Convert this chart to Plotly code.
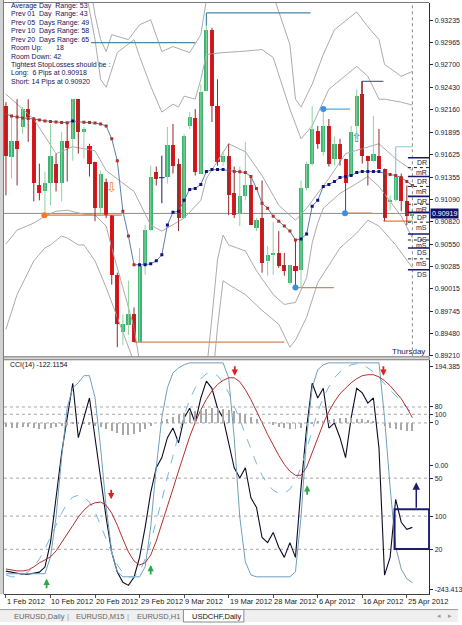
import plotly.graph_objects as go
import pandas as pd

W, H = 462, 625

# ---------------- categories ----------------
all_days = pd.date_range("2012-02-01", "2012-04-26", freq="D")
dates = [d for d in all_days if d.weekday() != 5]          # broker feed has Sunday bars
bar_index = list(range(len(dates)))
date_keys = [d.strftime("%Y-%m-%d") for d in dates]

tick_dates = ["2012-02-01", "2012-02-10", "2012-02-20", "2012-02-29", "2012-03-09",
              "2012-03-19", "2012-03-28", "2012-04-06", "2012-04-16", "2012-04-25"]
tick_text = ["1 Feb 2012", "10 Feb 2012", "20 Feb 2012", "29 Feb 2012", "9 Mar 2012",
             "19 Mar 2012", "28 Mar 2012", "6 Apr 2012", "16 Apr 2012", "25 Apr 2012"]
tick_index = [date_keys.index(t) for t in tick_dates]

price_ticks = [0.93235, 0.92965, 0.92700, 0.92430, 0.92160, 0.91895, 0.91625, 0.91355,
               0.91090, 0.90820, 0.90550, 0.90285, 0.90015, 0.89745, 0.89480, 0.89210]

# ---------------- OHLC (USDCHF daily) ----------------
opens = [0.92207, 0.91600, 0.91790, 0.91957, 0.92171, 0.92052, 0.91255, 0.91183, 0.91279, 0.91517,
         0.91279, 0.91790, 0.91814, 0.92290, 0.91897, 0.91731, 0.91540, 0.90981, 0.91302, 0.90898,
         0.90184, 0.89494, 0.89577, 0.89708, 0.89375, 0.90303, 0.90719, 0.91421, 0.91350, 0.91362,
         0.91743, 0.91517, 0.90862, 0.91969, 0.92064, 0.91398, 0.92385, 0.93123, 0.92207, 0.91540,
         0.91612, 0.91160, 0.90922, 0.91124, 0.91255, 0.90743, 0.90862, 0.90350, 0.90422, 0.90446,
         0.90303, 0.90089, 0.90291, 0.90243, 0.91219, 0.91517, 0.91909, 0.91659, 0.91969, 0.91576,
         0.91755, 0.91576, 0.91374, 0.91969, 0.92350, 0.91612, 0.91552, 0.91612, 0.91457, 0.91064,
         0.91076, 0.91362, 0.91064, 0.90898]
highs = [0.92254, 0.92076, 0.92290, 0.92195, 0.92290, 0.92076, 0.91517, 0.91421, 0.91993, 0.91636,
         0.91897, 0.92016, 0.92290, 0.92290, 0.91957, 0.91755, 0.91540, 0.91433, 0.91338, 0.90898,
         0.90208, 0.89708, 0.90112, 0.89791, 0.90505, 0.90779, 0.91493, 0.91481, 0.91612, 0.91957,
         0.91993, 0.91576, 0.91874, 0.92135, 0.92171, 0.92469, 0.93171, 0.93147, 0.92528, 0.91659,
         0.91755, 0.91481, 0.91481, 0.91778, 0.91374, 0.90862, 0.91314, 0.90529, 0.90814, 0.90707,
         0.90446, 0.90303, 0.90600, 0.91314, 0.91540, 0.92207, 0.91969, 0.92171, 0.92052, 0.91838,
         0.91814, 0.91576, 0.91969, 0.92409, 0.92504, 0.91612, 0.92088, 0.91933, 0.91457, 0.91136,
         0.91362, 0.91398, 0.91255, 0.90981]
lows = [0.91136, 0.91338, 0.91255, 0.91874, 0.91778, 0.91064, 0.91076, 0.90898, 0.91017, 0.91183,
        0.91064, 0.91302, 0.91552, 0.91636, 0.91576, 0.91362, 0.90826, 0.90898, 0.90862, 0.90065,
        0.89315, 0.89339, 0.89458, 0.89375, 0.89375, 0.90184, 0.90707, 0.91255, 0.91041, 0.91279,
        0.91398, 0.90707, 0.90862, 0.91933, 0.91374, 0.91398, 0.92385, 0.92016, 0.91493, 0.91493,
        0.90898, 0.90862, 0.90767, 0.91076, 0.90779, 0.90707, 0.90208, 0.90172, 0.90184, 0.90267,
        0.90172, 0.90065, 0.90029, 0.90029, 0.91195, 0.91493, 0.91695, 0.91612, 0.91481, 0.91493,
        0.91493, 0.90922, 0.91362, 0.91814, 0.91517, 0.91255, 0.91540, 0.91457, 0.90826, 0.90957,
        0.91064, 0.90945, 0.90779, 0.90838]
closes = [0.91612, 0.91790, 0.91695, 0.92171, 0.92076, 0.91279, 0.91160, 0.91279, 0.91612, 0.91279,
          0.91790, 0.91707, 0.92290, 0.91897, 0.91933, 0.91517, 0.90981, 0.91398, 0.90898, 0.90184,
          0.89589, 0.89589, 0.89708, 0.89375, 0.90291, 0.90719, 0.91362, 0.91338, 0.91348, 0.91743,
          0.91493, 0.90862, 0.91850, 0.92076, 0.91421, 0.92373, 0.93123, 0.92207, 0.91540, 0.91612,
          0.91136, 0.90898, 0.91124, 0.91255, 0.90779, 0.90838, 0.90327, 0.90422, 0.90446, 0.90291,
          0.90231, 0.90303, 0.90231, 0.91219, 0.91517, 0.91933, 0.91755, 0.91969, 0.91517, 0.91755,
          0.91576, 0.91279, 0.91897, 0.92326, 0.91612, 0.91552, 0.91636, 0.91457, 0.90862, 0.91076,
          0.91362, 0.91064, 0.90886, 0.90919]

# dotted trend moving average
ma_values = [0.92112, 0.92088, 0.92076, 0.92064, 0.92058, 0.92052, 0.92040, 0.92028, 0.92022, 0.92016,
             0.92010, 0.92008, 0.92028, 0.92016, 0.92012, 0.92010, 0.92004, 0.91993, 0.91969, 0.91814,
             0.91552, 0.90945, 0.90648, 0.90303, 0.90303, 0.90303, 0.90315, 0.90350, 0.90422, 0.90779,
             0.90933, 0.90945, 0.91076, 0.91207, 0.91219, 0.91267, 0.91421, 0.91445, 0.91445, 0.91445,
             0.91433, 0.91421, 0.91418, 0.91409, 0.91362, 0.91219, 0.91041, 0.90981, 0.90886, 0.90826,
             0.90767, 0.90707, 0.90600, 0.90612, 0.90672, 0.91005, 0.91076, 0.91243, 0.91267, 0.91302,
             0.91350, 0.91362, 0.91374, 0.91409, 0.91421, 0.91421, 0.91421, 0.91421, 0.91398, 0.91386,
             0.91374, 0.91350, 0.91302, 0.91255]

# band lines (read at visible turning points)
mid_idx = [0, 5, 9, 12, 16, 18, 23, 26, 28, 32, 35, 36, 40, 43, 46, 49, 52, 54, 58, 61, 67, 70, 73]
mid_val = [0.92350, 0.92052, 0.91636, 0.91719, 0.91671, 0.91433, 0.91183, 0.90779, 0.90707, 0.90862,
           0.91076, 0.91338, 0.91755, 0.91659, 0.91374, 0.91017, 0.90838, 0.90981, 0.91338, 0.91636,
           0.91755, 0.91576, 0.91433]
uo_idx = [15, 16, 17, 18, 19, 22, 24, 26, 28, 30, 33, 35, 36, 37, 45, 48, 51, 52, 53, 55, 57, 59, 63,
          65, 67, 68, 71, 73]
uo_val = [0.93718, 0.93302, 0.93004, 0.92861, 0.93064, 0.93004, 0.93183, 0.93242, 0.92861, 0.92921,
          0.92849, 0.93064, 0.93480, 0.93718, 0.93778, 0.93540, 0.92945, 0.92290, 0.92195, 0.92469,
          0.92826, 0.93123, 0.93337, 0.93159, 0.93004, 0.92707, 0.92564, 0.92623]
ui_idx = [14, 16, 17, 18, 20, 23, 24, 26, 28, 30, 31, 32, 34, 35, 36, 39, 42, 46, 48, 49, 51, 53, 55,
          58, 63, 65, 67, 68, 71, 73]
ui_val = [0.93718, 0.93004, 0.92528, 0.92433, 0.92849, 0.93004, 0.92802, 0.92445, 0.92135, 0.92231,
          0.92195, 0.92326, 0.92290, 0.92528, 0.92826, 0.92849, 0.92861, 0.92885, 0.92790, 0.92588,
          0.92171, 0.91814, 0.91969, 0.92409, 0.92683, 0.92564, 0.92290, 0.92290, 0.92254, 0.92219]
li_idx = [0, 2, 5, 7, 9, 11, 14, 16, 18, 19, 21, 23, 24, 34, 35, 36, 37, 38, 39, 40, 43, 45, 48, 50,
          52, 54, 55, 56, 57, 60, 63, 65, 67, 69, 71, 73]
li_val = [0.90553, 0.90719, 0.90803, 0.90886, 0.90945, 0.90957, 0.90910, 0.90898, 0.90767, 0.90505,
          0.90029, 0.89553, 0.89137, 0.88899, 0.88899, 0.89018, 0.89672, 0.90362, 0.90660, 0.90541,
          0.90469, 0.90231, 0.89946, 0.89827, 0.89851, 0.90148, 0.90565, 0.90803, 0.90981, 0.91160,
          0.91279, 0.91362, 0.91243, 0.91064, 0.90886, 0.90624]
lo_idx = [0, 2, 5, 7, 8, 10, 11, 13, 14, 16, 18, 20, 22, 24, 37, 38, 39, 40, 43, 46, 49, 51, 52, 54,
          56, 60, 63, 65, 67, 70, 73]
lo_val = [0.89529, 0.89946, 0.90350, 0.90505, 0.90541, 0.90648, 0.90624, 0.90541, 0.90541, 0.90350,
          0.90029, 0.89672, 0.89315, 0.88958, 0.88839, 0.89553, 0.90112, 0.90065, 0.89946, 0.89756,
          0.89589, 0.89315, 0.89398, 0.89672, 0.90089, 0.90505, 0.90684, 0.90838, 0.90767, 0.90541,
          0.90267]

# horizontal level segments drawn by the chart's objects
seg_start = [15.3, 36.0, 57.0, 60.9, 52.0, 6.9, 23.0, 63.9, 70.0, 67.8]
seg_end = [34.0, 54.7, 61.8, 65.7, 58.9, 20.8, 50.0, 67.8, 73.0, 73.0]
seg_price = [0.92968, 0.93325, 0.92171, 0.90922, 0.90029, 0.90898, 0.89375, 0.92504, 0.91719, 0.90826]
stub_x = [36.0, 63.9, 70.0]
stub_top = [0.93325, 0.92504, 0.91719]
stub_bottom = [0.93171, 0.92350, 0.91362]
dot_x = [6.9, 57.0, 60.9, 52.0]
dot_price = [0.90898, 0.92171, 0.90922, 0.90029]
signal_x = [19.0, 63.0]
signal_price = [0.91231, 0.91826]

pivot_names = ["DR", "mR", "DR", "mR", "DR", "mR", "DP", "mS", "DS", "mS", "DS", "mS", "DS"]
pivot_prices = [0.91588, 0.91469, 0.91362, 0.91243, 0.91124, 0.91029, 0.90933, 0.90814, 0.90672,
                0.90600, 0.90505, 0.90374, 0.90243]

info_lines = ["Average Day\u00a0\u00a0Range: 53",
              "Prev 01\u00a0\u00a0Day\u00a0\u00a0Range: 43",
              "Prev 05\u00a0\u00a0Days Range: 49",
              "Prev 10\u00a0\u00a0Days Range: 58",
              "Prev 20\u00a0\u00a0Days Range: 65",
              "Room Up:\u00a0\u00a0\u00a0\u00a0\u00a0\u00a0\u00a018",
              "Room Down: 42",
              "Tightest StopLosses should be :",
              "Long:\u00a0\u00a06 Pips at 0.90918",
              "Short: 14 Pips at 0.90920"]

# ---------------- indicator window ----------------
cci = [-208, -210, -212, -214, -214, -212, -210, -200, -152, -64,
       24, 93, 161, 54, 93, 132, 54, -25, -103, -171,
       -210, -230, -236, -220, -181, -122, -54, -5, 15, 54,
       73, 44, 93, 112, 83, 132, 165, 151, 112, 93,
       44, -5, -25, -5, -64, -83, -142, -152, -132, -161,
       -181, -152, -181, -44, 73, 161, 132, 151, 73, 83,
       54, 15, 93, 151, 142, 122, 132, 34, -216, -181,
       -67, -112, -126, -122.1154]
stoch_main = [9.7, 9.7, 9.7, 9.7, 9.7, 9.7, 9.7, 9.7, 16.8, 33.6,
              58.7, 79.7, 88.1, 90.2, 93.2, 93.2, 83.9, 62.9, 37.8, 18.9,
              10.5, 8.4, 8.4, 8.4, 8.4, 12.6, 29.4, 54.6, 75.5, 88.1,
              94.4, 96.5, 97.8, 98.6, 98.6, 98.6, 98.6, 98.6, 98.6, 98.6,
              92.3, 67.1, 33.6, 14.7, 9.2, 8.4, 8.4, 8.4, 8.4, 8.4,
              8.4, 8.4, 10.5, 33.6, 67.1, 88.1, 95.7, 97.8, 98.6, 98.6,
              98.6, 98.6, 98.6, 98.6, 98.6, 98.6, 98.6, 98.6, 75.5, 46.2,
              21.0, 11.7, 7.6, 5.9]
slow_red = [11.7, 11.3, 10.9, 10.9, 11.3, 12.6, 14.3, 15.5, 16.8, 19.3,
            22.7, 26.5, 30.0, 33.6, 36.5, 38.6, 39.6, 39.9, 38.6, 35.2,
            30.2, 24.3, 18.9, 15.1, 13.4, 14.3, 17.6, 23.5, 30.5, 38.0,
            45.5, 53.0, 60.5, 67.5, 73.5, 78.8, 83.2, 86.8, 89.5, 91.2,
            92.3, 92.3, 90.6, 87.3, 83.1, 78.5, 73.4, 68.4, 63.8, 59.6,
            55.8, 52.9, 51.2, 51.2, 54.6, 60.8, 67.1, 73.0, 78.1, 82.2,
            85.6, 88.1, 90.2, 91.9, 93.2, 93.6, 93.6, 92.7, 91.1, 89.0,
            86.4, 83.5, 79.7, 75.5]
fast_dash = [9.2, 8.4, 8.4, 9.2, 10.5, 12.6, 15.9, 20.1, 25.2, 30.2,
             35.2, 39.4, 42.0, 42.8, 42.0, 39.9, 35.7, 30.2, 24.3, 18.5,
             13.4, 10.1, 8.4, 8.4, 10.5, 15.9, 23.1, 31.5, 40.7, 50.4,
             59.6, 68.4, 76.4, 83.1, 88.1, 91.9, 94.0, 94.4, 93.2, 90.2,
             86.0, 80.6, 74.7, 68.4, 62.1, 56.2, 51.2, 47.4, 44.9, 43.6,
             43.6, 45.3, 48.7, 54.6, 62.1, 70.5, 78.1, 83.9, 88.5, 92.3,
             94.8, 96.5, 97.8, 98.2, 97.8, 96.5, 94.8, 92.3, 89.8, 87.3,
             84.8, 82.2, 79.7, 77.2]
hist = [-4, -5, -5, -4, -4, -5, -6, -6, -5, -4, -3, -2, -1, -1, -1, -2, -3,
        -4, -6, -8, -10, -12, -12, -11, -9, -6, -3,
        0, 2, 4, 6, 8, 10, 11, 12, 13, 14, 15, 15, 14, 13, 12, 10, 8, 6, 4,
        2, 0, -2, -4, -5, -6, -6, -5, -3,
        -1, 1, 2, 3, 4, 5, 5, 5, 4, 4, 3, 2,
        0, -3, -5, -6, -7, -8, -8]
sell_x = [18.9, 41.1, 67.8]
sell_val = [41.1, 93.2, 93.2]
buy_x = [7.3, 26.0, 54.1]
buy_val = [7.6, 13.4, 47.0]
box_x = [69.8, 76.0]
box_val = [20.1, 36.9]
box_arrow_x = 73.7
box_arrow_val = 48.3

tab_labels = ["EURUSD,Daily", "EURUSD,M15", "EURUSD,H1", "USDCHF,Daily"]

# ---------------- styles ----------------
FONT = "Liberation Sans, Arial, sans-serif"
NAVY = "#1a1a6e"
AXIS = "#24246a"
GREEN = "#3cb371"
GREEN_WICK = "#8fd3a0"
RED = "#e3161b"
RED_WICK = "#8e2a2a"
BAND = "#ababab"
XR = [-0.356, 76.03]

fig = go.Figure()

def px_x(p):
    return p / W

def px_y(p):
    return 1 - p / H

# bands
for bx, by in [(mid_idx, mid_val), (uo_idx, uo_val), (ui_idx, ui_val), (li_idx, li_val), (lo_idx, lo_val)]:
    fig.add_trace(go.Scatter(x=bx, y=by, mode="lines", line=dict(color=BAND, width=1),
                             hoverinfo="skip", xaxis="x", yaxis="y"))

# level segments
seg_colors = ["#4a86a6", "#4a86a6", "#5aa7da", "#c98a5e", "#c98a5e", "#e8782e", "#c98a5e",
              "#3c7a98", "#86c8da", "#e8782e"]
for x0, x1, p, c in zip(seg_start, seg_end, seg_price, seg_colors):
    fig.add_trace(go.Scatter(x=[x0, x1], y=[p, p], mode="lines", line=dict(color=c, width=1.2),
                             hoverinfo="skip", xaxis="x", yaxis="y"))
for sx, st, sb, c in zip(stub_x, stub_top, stub_bottom, ["#4a86a6", "#3c7a98", "#86c8da"]):
    fig.add_trace(go.Scatter(x=[sx, sx], y=[st, sb], mode="lines", line=dict(color=c, width=1.2),
                             hoverinfo="skip", xaxis="x", yaxis="y"))

# candles
up = [i for i in bar_index if closes[i] - opens[i] > 0.00003]
dn = [i for i in bar_index if opens[i] - closes[i] > 0.00003]
dj = [i for i in bar_index if i not in up and i not in dn]

def wick_xy(ids):
    xs, ys = [], []
    for i in ids:
        xs += [i, i, None]
        ys += [lows[i], highs[i], None]
    return xs, ys

for ids, col in [(up, GREEN_WICK), (dn, RED_WICK), (dj, NAVY)]:
    wx, wy = wick_xy(ids)
    fig.add_trace(go.Scatter(x=wx, y=wy, mode="lines", line=dict(color=col, width=1),
                             hoverinfo="skip", xaxis="x", yaxis="y"))
for ids, col in [(up, GREEN), (dn, RED)]:
    fig.add_trace(go.Bar(x=ids, y=[abs(closes[i] - opens[i]) for i in ids],
                         base=[min(opens[i], closes[i]) for i in ids], width=0.74,
                         marker=dict(color=col, line=dict(width=0)), hoverinfo="skip",
                         xaxis="x", yaxis="y"))
fig.add_trace(go.Scatter(x=dj, y=[closes[i] for i in dj], mode="markers",
                         marker=dict(symbol="line-ew", size=4, line=dict(color=NAVY, width=1)),
                         hoverinfo="skip", xaxis="x", yaxis="y"))

# dotted trend MA
ma_colors = ["#b2302c"] + ["#12127a" if ma_values[i] >= ma_values[i - 1] else "#b2302c"
                           for i in bar_index[1:]]
fig.add_trace(go.Scatter(x=bar_index, y=ma_values, mode="lines+markers",
                         line=dict(color="#5a7db0", width=1),
                         marker=dict(symbol="square", size=3, color=ma_colors),
                         hoverinfo="skip", xaxis="x", yaxis="y"))

# dots
fig.add_trace(go.Scatter(x=dot_x, y=dot_price, mode="markers",
                         marker=dict(size=6, color=["#f07a2a", "#3a8fe8", "#3a8fe8", "#3a8fe8"]),
                         hoverinfo="skip", xaxis="x", yaxis="y"))

# ---- indicator window traces ----
fig.add_trace(go.Bar(x=bar_index, y=hist, width=0.18, marker=dict(color="#a8a8a8", line=dict(width=0)),
                     hoverinfo="skip", xaxis="x2", yaxis="y4"))
fig.add_trace(go.Scatter(x=bar_index, y=stoch_main, mode="lines", line=dict(color="#6f9fbc", width=1),
                         hoverinfo="skip", xaxis="x2", yaxis="y3"))
fig.add_trace(go.Scatter(x=bar_index, y=fast_dash, mode="lines",
                         line=dict(color="#79b6dc", width=1, dash="dash"),
                         hoverinfo="skip", xaxis="x2", yaxis="y3"))
fig.add_trace(go.Scatter(x=bar_index, y=slow_red, mode="lines", line=dict(color="#b0302a", width=1),
                         hoverinfo="skip", xaxis="x2", yaxis="y3"))
fig.add_trace(go.Scatter(x=bar_index, y=cci, mode="lines", line=dict(color="#0c0c28", width=1.1),
                         hoverinfo="skip", xaxis="x2", yaxis="y2"))

# ---------------- shapes ----------------
shapes = []
shapes.append(dict(type="rect", xref="paper", yref="paper", x0=0, x1=px_x(3), y0=px_y(597), y1=1,
                   fillcolor="#d2d2d2", line=dict(width=0), layer="above"))
shapes.append(dict(type="line", xref="paper", yref="paper", x0=px_x(3.5), x1=px_x(3.5), y0=px_y(597), y1=1,
                   line=dict(color="#7a7a7a", width=1), layer="above"))
shapes.append(dict(type="line", xref="paper", yref="paper", x0=px_x(3.5), x1=px_x(433), y0=px_y(2.5), y1=px_y(2.5),
                   line=dict(color="#7a7a7a", width=1), layer="above"))
shapes.append(dict(type="rect", xref="paper", yref="paper", x0=px_x(3.5), x1=px_x(433), y0=px_y(361.5), y1=px_y(358.5),
                   fillcolor="#d6d6d6", line=dict(color="#7a7a7a", width=1), layer="above"))
shapes.append(dict(type="line", xref="x domain", yref="y", x0=0, x1=1, y0=closes[-1], y1=closes[-1],
                   line=dict(color="#8c8c8c", width=1), layer="below"))
shapes.append(dict(type="line", xref="x", yref="y domain", x0=bar_index[-1], x1=bar_index[-1], y0=0, y1=1,
                   line=dict(color="#8a8a8a", width=1, dash="dot")))
for name, p in zip(pivot_names, pivot_prices):
    major = name in ("DR", "DS", "DP")
    shapes.append(dict(type="line", xref="x", yref="y", x0=72.2, x1=XR[1], y0=p, y1=p,
                       line=dict(color=NAVY if major else "#222222", width=1.6 if major else 1,
                                 dash="solid" if major else "dot")))
for ref, v in [("y2", 100), ("y2", -100), ("y3", 80), ("y3", 50), ("y3", 20), ("y4", 0)]:
    shapes.append(dict(type="line", xref="x2 domain", yref=ref, x0=0, x1=1, y0=v, y1=v,
                       line=dict(color="#a6a6a6", width=1, dash="dot"), layer="below"))
shapes.append(dict(type="rect", xref="x2", yref="y3", x0=box_x[0], x1=box_x[1], y0=box_val[0], y1=box_val[1],
                   line=dict(color="#1c1c6a", width=2)))
shapes.append(dict(type="rect", xref="paper", yref="paper", x0=0, x1=1, y0=0, y1=px_y(612.5),
                   fillcolor="#efefef", line=dict(width=0), layer="above"))
shapes.append(dict(type="line", xref="paper", yref="paper", x0=0, x1=1, y0=px_y(612.5), y1=px_y(612.5),
                   line=dict(color="#9a9a9a", width=1), layer="above"))
shapes.append(dict(type="rect", xref="paper", yref="paper", x0=px_x(185), x1=px_x(246), y0=0, y1=px_y(612.5),
                   fillcolor="#ffffff", line=dict(color="#8a8a8a", width=1), layer="above"))

# ---------------- annotations ----------------
ann = []
for k, line in enumerate(info_lines):
    ann.append(dict(xref="paper", yref="paper", x=px_x(9), y=px_y(6 + 8.45 * k), text=line,
                    showarrow=False, xanchor="left", yanchor="middle",
                    font=dict(size=7, color="#14145e", family=FONT)))
ann.append(dict(xref="paper", yref="paper", x=px_x(431), y=px_y(353), text="Thursday", showarrow=False,
                xanchor="right", yanchor="middle", font=dict(size=8, color="#20205a", family=FONT)))
ann.append(dict(xref="paper", yref="y", x=px_x(433.5), y=closes[-1], text="%.5f" % closes[-1], showarrow=False,
                xanchor="left", yanchor="middle", bgcolor="#10106a", borderpad=1,
                font=dict(size=7, color="white", family=FONT)))
for name, p in zip(pivot_names, pivot_prices):
    ann.append(dict(xref="paper", yref="y", x=px_x(433), y=p, text=name, showarrow=False,
                    xanchor="right", yanchor="top", yshift=0.5,
                    font=dict(size=7, color="#1a1a40", family=FONT)))
for sx, sp, sym, col in zip(signal_x, signal_price, ["\u21e9", "\u21e7"], ["#f07a2a", "#3a8fe8"]):
    ann.append(dict(xref="x", yref="y", x=sx, y=sp, text=sym, showarrow=False,
                    font=dict(size=13, color=col, family="DejaVu Sans")))
ann.append(dict(xref="paper", yref="paper", x=px_x(8), y=px_y(367), text="CCI(14) -122.1154", showarrow=False,
                xanchor="left", yanchor="middle", font=dict(size=7, color="#101010", family=FONT)))
for sx, sv in zip(sell_x, sell_val):
    ann.append(dict(xref="x2", yref="y3", x=sx, y=sv, ax=0, ay=-11, text="", showarrow=True,
                    arrowhead=2, arrowsize=0.7, arrowwidth=1.8, arrowcolor="#e0201c"))
for sx, sv in zip(buy_x, buy_val):
    ann.append(dict(xref="x2", yref="y3", x=sx, y=sv, ax=0, ay=11, text="", showarrow=True,
                    arrowhead=2, arrowsize=0.7, arrowwidth=1.8, arrowcolor="#2ea84a"))
ann.append(dict(xref="x2", yref="y3", x=box_arrow_x, y=box_arrow_val, ax=0, ay=27, text="", showarrow=True,
                arrowhead=2, arrowsize=1, arrowwidth=1.5, arrowcolor="#1c1c6a"))
for ti, tt in zip(tick_index, tick_text):
    ann.append(dict(xref="x2", yref="paper", x=ti, y=px_y(604), text=tt, showarrow=False,
                    xanchor="left", yanchor="middle", xshift=-1,
                    font=dict(size=7.5, color="#202020", family=FONT)))
for tx, tl, active in zip([12, 75, 136, 192], tab_labels, [False, False, False, True]):
    ann.append(dict(xref="paper", yref="paper", x=px_x(tx), y=px_y(619), text=tl, showarrow=False,
                    xanchor="left", yanchor="middle",
                    font=dict(size=7.5, color="#111111" if active else "#666666", family=FONT)))
for sx in [69, 129]:
    ann.append(dict(xref="paper", yref="paper", x=px_x(sx), y=px_y(619), text="|", showarrow=False,
                    xanchor="center", yanchor="middle", font=dict(size=8, color="#9a9a9a", family=FONT)))
for sx, ch in [(443, "\u25c2"), (454, "\u25b8")]:
    ann.append(dict(xref="paper", yref="paper", x=px_x(sx), y=px_y(619), text=ch, showarrow=False,
                    xanchor="center", yanchor="middle", font=dict(size=7, color="#9a9a9a", family="DejaVu Sans")))

tickfont = dict(size=7, color="#20203c", family=FONT)
fig.update_layout(
    width=W, height=H, margin=dict(l=0, r=0, t=0, b=0),
    paper_bgcolor="white", plot_bgcolor="white", showlegend=False,
    barmode="overlay", bargap=0, font=dict(family=FONT, size=7),
    xaxis=dict(domain=[px_x(4), px_x(433)], range=XR, anchor="y", showgrid=False, zeroline=False,
               showticklabels=False, ticks="", showline=False, fixedrange=True),
    yaxis=dict(domain=[px_y(358), px_y(3)], range=[0.89205, 0.93444], side="right", anchor="x",
               tickvals=price_ticks, tickformat=".5f", ticks="outside", ticklen=3, tickcolor=AXIS,
               showline=True, linecolor=AXIS, linewidth=1, showgrid=False, zeroline=False,
               tickfont=tickfont, fixedrange=True),
    xaxis2=dict(domain=[px_x(4), px_x(433)], range=XR, anchor="y2", showgrid=False, zeroline=False,
                tickvals=tick_index, ticks="outside", ticklen=3, tickcolor="#505050",
                showticklabels=False, showline=True, linecolor="#404040", linewidth=1, fixedrange=True),
    yaxis2=dict(domain=[px_y(597), px_y(362)], range=[-253.2, 206.1], side="right", anchor="x2",
                tickvals=[194.385, 100, 0, -100, -243.413],
                ticktext=["194.385", "100", "0.00", "100", "-243.413"],
                ticks="outside", ticklen=3, tickcolor=AXIS, showline=True, linecolor=AXIS,
                showgrid=False, zeroline=False, tickfont=tickfont, fixedrange=True),
    yaxis3=dict(overlaying="y2", side="right", anchor="x2", range=[1.1, 99.7],
                tickvals=[80, 50, 20], ticks="outside", ticklen=3, tickcolor=AXIS,
                showgrid=False, zeroline=False, showline=False, tickfont=tickfont, fixedrange=True),
    yaxis4=dict(overlaying="y2", side="right", anchor="x2", range=[-172, 63],
                tickvals=[0], ticktext=["0"], ticks="outside", ticklen=3, tickcolor=AXIS,
                showgrid=False, zeroline=False, showline=False, tickfont=tickfont, fixedrange=True),
    shapes=shapes, annotations=ann,
)

fig.write_html("out.html")
